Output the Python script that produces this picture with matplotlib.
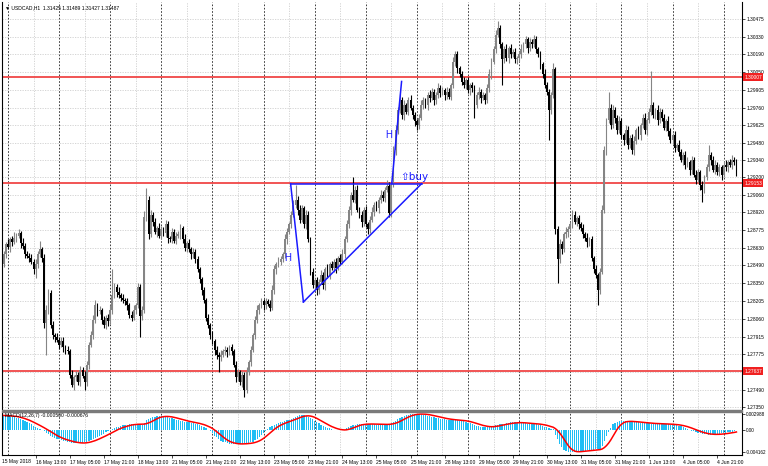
import numpy as np
import pandas as pd
import matplotlib.pyplot as plt

plt.rcParams['font.family'] = ['Liberation Sans', 'DejaVu Sans']

# ---- USDCAD H1 bars, prices in pips above 1.2700 ----
first_open = 150
close_pips = [
    158, 166, 164, 170, 168, 171, 173, 175, 167, 165,
    158, 157, 155, 152, 146, 150, 158, 162, 155, 103,
    113, 127, 101, 93, 91, 89, 85, 88, 83, 81,
    80, 61, 53, 59, 61, 55, 65, 60, 55, 69,
    85, 93, 105, 117, 112, 113, 105, 101, 107, 104,
    113, 125, 132, 128, 125, 123, 121, 120, 117, 109,
    107, 113, 117, 132, 108, 113, 188, 202, 174, 190,
    184, 176, 179, 173, 178, 175, 182, 171, 170, 176,
    169, 173, 174, 179, 170, 163, 167, 162, 158, 160,
    154, 146, 138, 129, 121, 107, 101, 93, 88, 81,
    77, 75, 77, 80, 81, 79, 83, 80, 69, 59,
    63, 55, 61, 49, 63, 71, 81, 93, 105, 113,
    117, 120, 117, 120, 118, 115, 129, 146, 150, 152,
    154, 158, 170, 176, 182, 190, 198, 202, 194, 186,
    195, 182, 190, 170, 144, 133, 137, 129, 136, 141,
    133, 146, 141, 150, 147, 152, 147, 155, 152, 158,
    170, 182, 194, 206, 202, 210, 194, 190, 184, 194,
    182, 178, 186, 192, 198, 195, 202, 206, 203, 210,
    213, 191, 214, 242, 258, 274, 282, 270, 278, 273,
    282, 276, 270, 265, 262, 268, 278, 282, 278, 286,
    284, 289, 282, 286, 292, 288, 290, 286, 289, 285,
    294, 313, 319, 308, 303, 297, 294, 298, 290, 294,
    292, 278, 286, 289, 284, 286, 282, 292, 303, 313,
    323, 335, 340, 327, 315, 323, 316, 324, 319, 321,
    315, 316, 319, 323, 327, 331, 324, 329, 327, 331,
    323, 319, 311, 303, 294, 289, 274, 286, 307, 178,
    154, 166, 162, 174, 176, 178, 182, 190, 184, 187,
    182, 179, 174, 171, 168, 170, 155, 146, 141, 129,
    144, 194, 242, 266, 276, 262, 274, 268, 258, 265,
    254, 250, 258, 246, 252, 242, 249, 258, 254, 262,
    268, 258, 266, 273, 278, 270, 274, 266, 273, 268,
    260, 265, 257, 250, 254, 244, 246, 240, 234, 238,
    230, 232, 226, 234, 222, 218, 224, 214, 210, 220,
    228, 238, 234, 226, 230, 224, 228, 222, 230, 228,
    232, 230, 234, 232, 224,
]
wick_up = [
    3, 2, 4, 2, 3, 5, 2, 3, 2, 4,  2, 3, 2, 3, 2, 4, 3, 7, 2, 3,
    4, 3, 2, 3, 2, 4, 2, 3, 3, 2,  3, 2, 4, 2, 3, 2, 3, 2, 4, 3,
    2, 3, 4, 4, 2, 3, 2, 3, 2, 3,  4, 21, 3, 2, 4, 2, 3, 2, 3, 2,
    3, 4, 2, 3, 2, 3, 5, 9, 3, 4,  2, 3, 2, 4, 3, 2, 4, 3, 2, 3,
    2, 3, 3, 3, 2, 4, 2, 3, 2, 3,  2, 3, 2, 2, 3, 2, 3, 2, 3, 2,
    3, 2, 4, 2, 3, 2, 2, 3, 2, 3,  3, 2, 3, 2, 4, 2, 3, 2, 3, 4,
    2, 3, 2, 3, 2, 3, 4, 3, 2, 4,  3, 2, 4, 3, 2, 3, 4, 12, 3, 4,
    3, 2, 4, 3, 2, 3, 2, 3, 2, 4,  3, 2, 4, 2, 3, 2, 3, 2, 3, 4,
    3, 4, 3, 2, 14, 3, 4, 2, 3, 2,  3, 2, 3, 4, 2, 3, 2, 4, 3, 2,
    5, 3, 2, 3, 4, 3, 5, 3, 4, 2,  3, 4, 2, 3, 2, 3, 4, 3, 2, 3,
    4, 3, 2, 3, 4, 2, 3, 2, 4, 3,  2, 4, 3, 3, 2, 3, 4, 2, 3, 2,
    3, 2, 3, 4, 2, 3, 2, 3, 4, 3,  3, 4, 6, 3, 2, 3, 4, 2, 3, 2,
    3, 2, 3, 4, 2, 3, 2, 3, 2, 4,  3, 2, 3, 2, 4, 3, 2, 3, 5, 2,
    3, 4, 3, 2, 4, 3, 2, 4, 3, 2,  3, 2, 3, 2, 4, 2, 3, 2, 3, 2,
    3, 4, 3, 2, 13, 3, 4, 3, 2, 4,  3, 2, 4, 3, 2, 3, 4, 2, 3, 2,
    3, 4, 2, 3, 28, 3, 2, 4, 3, 2,  3, 2, 4, 3, 2, 3, 2, 4, 3, 2,
    3, 4, 2, 3, 2, 4, 3, 2, 3, 2,  3, 8, 2, 3, 4, 2, 3, 2, 3, 4,
    2, 3, 4, 2, 3,
]
wick_down = [
    2, 3, 2, 4, 3, 2, 3, 2, 4, 3,  3, 2, 3, 2, 4, 7, 3, 2, 3, 4,
    26, 3, 2, 3, 4, 2, 3, 2, 4, 3,  2, 3, 2, 4, 3, 2, 3, 2, 6, 3,
    3, 2, 3, 2, 4, 2, 3, 2, 3, 4,  2, 3, 2, 4, 2, 3, 2, 3, 4, 2,
    3, 2, 3, 2, 17, 3, 2, 3, 4, 2,  3, 2, 4, 2, 3, 2, 3, 4, 2, 3,
    2, 3, 2, 4, 3, 2, 3, 2, 4, 3,  3, 2, 3, 4, 2, 3, 2, 3, 2, 4,
    3, 12, 3, 2, 3, 4, 2, 3, 2, 4,  3, 2, 4, 6, 3, 2, 3, 2, 3, 2,
    3, 2, 4, 3, 2, 3, 2, 3, 4, 2,  3, 2, 3, 4, 2, 3, 2, 3, 4, 3,
    2, 3, 4, 2, 3, 2, 3, 4, 3, 2,  3, 4, 2, 3, 2, 3, 4, 2, 3, 2,
    3, 2, 3, 4, 2, 3, 2, 3, 4, 3,  2, 4, 3, 2, 3, 2, 4, 3, 2, 3,
    2, 3, 3, 2, 4, 3, 2, 3, 4, 2,  3, 2, 3, 4, 4, 3, 2, 3, 2, 4,
    3, 2, 4, 3, 2, 3, 2, 4, 3, 2,  3, 2, 3, 4, 2, 3, 2, 3, 2, 4,
    3, 10, 2, 3, 4, 2, 3, 2, 3, 4,  2, 3, 2, 3, 21, 3, 2, 4, 3, 2,
    3, 4, 2, 3, 2, 3, 4, 2, 3, 2,  3, 2, 4, 3, 2, 3, 24, 3, 2, 4,
    19, 3, 4, 2, 3, 4, 2, 3, 2, 3,  4, 2, 3, 2, 4, 3, 2, 3, 2, 12,
    3, 2, 3, 4, 2, 3, 2, 4, 3, 2,  3, 4, 2, 3, 2, 3, 4, 2, 3, 4,
    2, 3, 4, 2, 3, 2, 3, 4, 2, 3,  2, 3, 4, 2, 3, 4, 2, 3, 2, 4,
    3, 2, 4, 3, 2, 3, 2, 4, 10, 3,  2, 3, 4, 2, 3, 2, 3, 4, 2, 3,
    4, 2, 3, 2, 3,
]
# MACD main line, units of 1e-5
macd_main = [
    272, 268, 262, 256, 250, 240, 230, 215, 200, 185,
    168, 150, 130, 105, 80, 60, 40, 20, 0, -30,
    -60, -85, -110, -139, -155, -170, -180, -192, -203, -215,
    -228, -240, -250, -253, -255, -252, -250, -247, -240, -225,
    -205, -190, -171, -155, -135, -115, -95, -76, -50, -25,
    0, 15, 30, 45, 60, 72, 82, 92, 100, 108,
    114, 110, 105, 102, 100, 98, 130, 177, 200, 220,
    241, 250, 256, 260, 258, 255, 250, 241, 230, 218,
    205, 190, 180, 170, 160, 152, 146, 140, 132, 124,
    112, 101, 90, 75, 55, 30, 5, -20, -60, -110,
    -145, -180, -205, -225, -240, -255, -266, -268, -270, -272,
    -270, -266, -262, -258, -252, -246, -240, -225, -200, -171,
    -140, -100, -60, -20, 20, 45, 70, 90, 114, 128,
    142, 155, 166, 177, 195, 212, 230, 248, 265, 280,
    285, 275, 260, 240, 220, 200, 175, 150, 120, 100,
    80, 60, 40, 25, 10, 0, -5, -10, -8, -5,
    0, 30, 60, 75, 88, 98, 104, 110, 112, 112,
    110, 110, 108, 105, 102, 100, 100, 100, 102, 105,
    108, 110, 130, 150, 175, 200, 230, 250, 265, 280,
    290, 296, 300, 304, 304, 300, 295, 288, 280, 270,
    260, 250, 240, 230, 220, 210, 205, 200, 195, 190,
    185, 182, 180, 178, 175, 170, 165, 150, 135, 120,
    105, 92, 80, 70, 62, 58, 55, 52, 51, 60,
    80, 90, 100, 108, 112, 114, 120, 130, 140, 146,
    142, 136, 130, 126, 122, 120, 118, 115, 112, 110,
    105, 98, 90, 78, 62, 50, 30, 10, 20, -90,
    -170, -266, -330, -392, -410, -424, -424, -420, -415, -410,
    -405, -400, -398, -395, -390, -385, -380, -376, -372, -370,
    -360, -300, -203, -120, -44, 40, 114, 135, 150, 165,
    165, 162, 160, 158, 155, 150, 147, 143, 140, 135,
    127, 125, 122, 120, 118, 116, 114, 112, 111, 110,
    110, 108, 105, 100, 95, 90, 85, 80, 65, 50,
    35, 18, 0, -15, -30, -45, -63, -70, -78, -85,
    -89, -90, -90, -88, -85, -80, -76, -70, -64, -58,
    -50, -44, -35, -25, -13,
]

price_ticks = [1.30475, 1.30330, 1.30190, 1.30050, 1.29905, 1.29760, 1.29625,
               1.29480, 1.29340, 1.29200, 1.29060, 1.28920, 1.28775, 1.28630,
               1.28490, 1.28350, 1.28205, 1.28060, 1.27915, 1.27775, 1.27490,
               1.27350]
levels = [1.30007, 1.29153, 1.27637]
date_idx = [15, 31, 47, 63, 79, 95, 111, 127, 143, 159, 175,
            191, 207, 223, 239, 255, 271, 287, 303, 319, 335]
date_labels = ['16 May 13:00', '17 May 05:00', '17 May 21:00', '18 May 13:00',
               '21 May 05:00', '21 May 21:00', '22 May 13:00', '23 May 05:00',
               '23 May 21:00', '24 May 13:00', '25 May 05:00', '25 May 21:00',
               '28 May 13:00', '29 May 05:00', '29 May 21:00', '30 May 13:00',
               '31 May 05:00', '31 May 21:00', '1 Jun 13:00', '4 Jun 05:00',
               '4 Jun 21:00']
day_sep_idx = [2, 26, 50, 74, 98, 122, 146, 170, 194, 218, 242, 266, 290, 314, 338]
noon_idx = [14, 38, 62, 86, 110, 134, 158, 182, 206, 230, 254, 278, 302, 326]

# hand drawn pattern (bar index, pips)
flag_top = ([134.7, 196.2], [214.9, 214.9])
flag_left = ([134.7, 140.7], [214.9, 119.6])
flag_low = ([140.7, 196.2], [119.6, 214.9])
flag_pole = ([182.2, 186.8], [215.0, 297.2])

W, H = 768, 466
fig = plt.figure(figsize=(W / 100, H / 100), dpi=100)
L, R = 2, 742
ax = fig.add_axes([L / W, 1 - 409 / H, (R - L) / W, 407 / H])
mx = fig.add_axes([L / W, 1 - 455 / H, (R - L) / W, 43 / H])

n = len(close_pips)
x = np.arange(n)
c = 1.27 + np.array(close_pips) / 1e4
o = 1.27 + np.array([first_open] + close_pips[:-1]) / 1e4
hi = np.maximum(o, c) + np.array(wick_up) / 1e4
lo = np.minimum(o, c) - np.array(wick_down) / 1e4
cols = ['#858585' if cc >= oo else '#000000' for oo, cc in zip(o, c)]

xl = ((L - 3.7) / 2.13, (R - 3.7) / 2.13)
for a in (ax, mx):
    a.set_xlim(*xl)
    for i in noon_idx:
        a.axvline(i, color='#cfcfcf', lw=0.6, ls=(0, (1.5, 1.5)), zorder=0)
    for i in day_sep_idx:
        a.axvline(i, color='#202020', lw=0.6, ls=(0, (2, 2)), zorder=0.5)

ax.set_ylim(1.27334, 1.30612)
for p in price_ticks + [1.27630]:
    ax.axhline(p, color='#cfcfcf', lw=0.6, ls=(0, (1.5, 1.5)), zorder=0)
for p in levels:
    ax.axhline(p, color='#f04646', lw=1.3, zorder=1)

ax.vlines(x, lo, hi, colors=cols, lw=0.8, zorder=2)
ax.bar(x, np.maximum(np.abs(c - o), 0.00003), bottom=np.minimum(o, c),
       width=0.85, color=cols, lw=0, zorder=2)

blue = '#1a1aff'
for xs, ps in (flag_top, flag_left, flag_low, flag_pole):
    ax.plot(xs, 1.27 + np.array(ps) / 1e4, color=blue, lw=1.1, zorder=3)
ax.text(133.5, 1.27 + 155.0 / 1e4, 'H', color=blue, fontsize=7, ha='center', va='center', zorder=4)
ax.text(181.0, 1.27 + 254.1 / 1e4, 'H', color=blue, fontsize=7, ha='center', va='center', zorder=4)
ax.text(186.0, 1.27 + 220.5 / 1e4, '\u21e7buy', color=blue, fontsize=7.5, ha='left', va='center',
        family=['DejaVu Sans'], zorder=4)

ax.yaxis.tick_right()
ax.set_yticks(price_ticks)
ax.set_yticklabels(['%.5f' % p for p in price_ticks])
ax.tick_params(axis='y', length=2, width=0.5, pad=1.2, labelsize=3.5)
ax.set_xticks([])
for p in levels:
    ax.text(1.003, p, '%.5f' % p, transform=ax.get_yaxis_transform(), color='white',
            fontsize=3.5, va='center', ha='left', clip_on=False, zorder=6,
            bbox=dict(boxstyle='square,pad=0.3', fc='#f02020', ec='none'))
for s in ('top', 'bottom'):
    ax.spines[s].set_visible(False)
ax.spines['left'].set_linewidth(0.8)
ax.spines['right'].set_linewidth(0.8)

ax.text(0.004, 0.992, '\u25bc USDCAD,H1  1.31425 1.31489 1.31427 1.31487', transform=ax.transAxes,
        fontsize=3.6, va='top', ha='left', family=['Liberation Sans', 'DejaVu Sans'])

# MACD panel
macd = np.array(macd_main) / 1e5
signal = pd.Series(macd).rolling(7, min_periods=1).mean().values
mx.bar(x, macd, width=0.6, color='#1ebef5', lw=0, zorder=2)
mx.plot(x, signal, color='#ff0000', lw=1.1, zorder=3)
mx.set_ylim(-0.004779, 0.003376)
mx.yaxis.tick_right()
mx.set_yticks([0.002988, 0.0, -0.004162])
mx.set_yticklabels(['0.002988', '0.00', '-0.004162'])
mx.tick_params(axis='y', length=2, width=0.5, pad=1.0, labelsize=3.3)
mx.set_xticks(date_idx)
mx.set_xticklabels(date_labels, ha='left')
mx.tick_params(axis='x', length=2, width=0.5, pad=1.5, labelsize=3.6)
mx.spines['top'].set_visible(False)
for s in ('left', 'right', 'bottom'):
    mx.spines[s].set_linewidth(0.8)
mx.text(0.004, 0.97, 'MACD(12,26,7) -0.000500 -0.000676', transform=mx.transAxes,
        fontsize=3.6, va='top', ha='left')
fig.text(2 / W, 1 - 461 / H, '15 May 2018', fontsize=3.6, va='center', ha='left')

# separator between the panels
fig.patches.append(plt.Rectangle((L / W, 1 - 412 / H), (R - L) / W, 2.5 / H,
                                 transform=fig.transFigure, color='#7a7a7a'))

fig.savefig('out.png', dpi=100)
